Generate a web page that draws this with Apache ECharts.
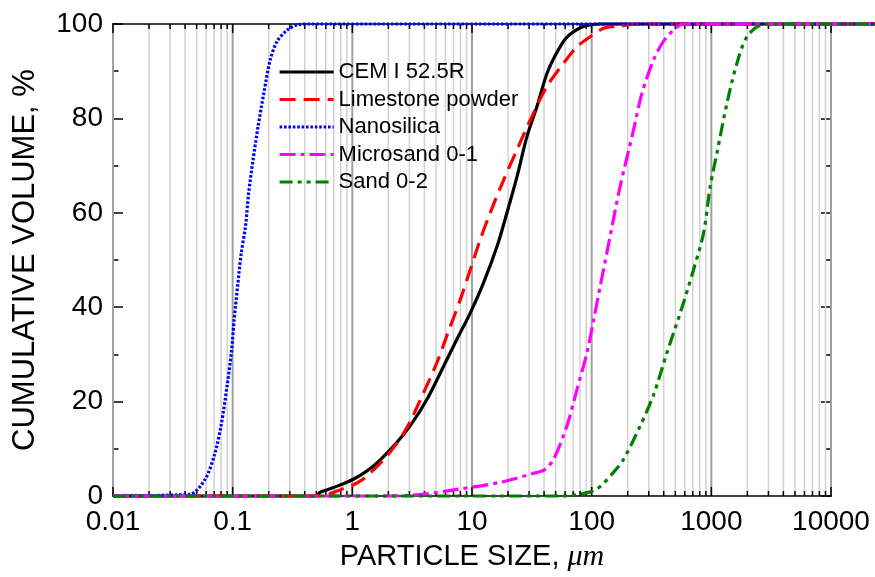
<!DOCTYPE html>
<html>
<head>
<meta charset="utf-8">
<script src="https://cdn.jsdelivr.net/npm/echarts@6/dist/echarts.min.js"></script>
<style>
html,body{margin:0;padding:0;background:#fff;}
#chart{width:875px;height:577px;}
</style>
</head>
<body>
<div id="chart"></div>
<script>
// ---- data ----
const seriesNames = ['CEM I 52.5R', 'Limestone powder', 'Nanosilica', 'Microsand 0-1', 'Sand 0-2'];

const cemX = [0.01, 0.49, 0.54, 0.70, 1.03, 1.51, 2.29, 3.05, 4.21, 5.79, 7.48, 9.68, 12.5, 16.2, 19.6, 23.8, 28.8, 34.9, 42.3, 51.3, 62.2, 80.3, 97, 120, 25000];
const cemY = [0, 0, 0.8, 1.8, 3.6, 6.4, 11, 14.9, 20.5, 27.5, 33.2, 38.8, 45.2, 52.9, 60, 67.7, 76.2, 82.5, 89.5, 94, 97.2, 99.2, 99.8, 100, 100];

const limeX = [0.01, 0.55, 0.70, 1.17, 1.95, 2.86, 3.94, 5.10, 6.38, 7.98, 9.68, 11.7, 14.2, 18.4, 23.8, 30.7, 42.3, 58.3, 75.4, 97.3, 126, 173, 250, 25000];
const limeY = [0, 0, 0.8, 3.2, 8.5, 14.5, 21.9, 28.3, 35, 41.6, 48, 54.3, 60, 67, 73.4, 79.7, 86.8, 91.7, 95.2, 97.3, 99.1, 99.6, 100, 100];

const nanoX = [0.01, 0.044, 0.059, 0.0708, 0.080, 0.0898, 0.0975, 0.103, 0.110, 0.118, 0.128, 0.136, 0.148, 0.163, 0.182, 0.206, 0.235, 0.285, 0.345, 0.45, 25000];
const nanoY = [0, 0.4, 3.6, 8.9, 14.9, 23.3, 30.4, 37.4, 44.5, 51.5, 57.1, 64.2, 71.2, 78.3, 85.3, 92.4, 96.3, 98.7, 99.8, 100, 100];

const microX = [0.01, 2, 3.7, 8, 17.2, 34.9, 40, 48.1, 62.2, 75.4, 91.4, 104, 118, 134, 152, 173, 224, 263, 329, 398, 500, 600, 25000];
const microY = [0, 0, 0.3, 1.5, 2.9, 5.0, 5.5, 7.8, 14.9, 22.6, 30.4, 37.4, 44.5, 51.5, 58.6, 65.6, 77.6, 85.3, 92.4, 96.3, 99.1, 100, 100];

const sandX = [0.01, 60, 80, 111, 152, 185, 255, 330, 426, 550, 711, 861, 979, 1114, 1350, 1637, 1983, 2565, 3000, 25000];
const sandY = [0, 0, 0.4, 1.5, 5, 7.8, 14.9, 21.5, 30.4, 38.8, 48, 55.7, 65.6, 72.7, 83.2, 91.7, 97.3, 99.8, 100, 100];

const xTickValues = [0.01, 0.1, 1, 10, 100, 1000, 10000];
const xTickLabels = ['0.01', '0.1', '1', '10', '100', '1000', '10000'];
const minorMultipliers = [2, 3, 4, 5, 6, 7, 8, 9];

// ---- layout (pixels) ----
const W = 875, PLOT_LEFT = 113, PLOT_RIGHT = 831, PLOT_TOP = 24, PLOT_BOTTOM = 497;
// the drawing area runs to the right edge of the page; the frame ends at the last tick value
const logMin = Math.log10(xTickValues[0]);
const logLast = Math.log10(xTickValues[xTickValues.length - 1]);
const xAxisMax = Math.pow(10, logMin + (logLast - logMin) * (W - PLOT_LEFT) / (PLOT_RIGHT - PLOT_LEFT));

// ---- build ----
const minorX = [];
for (let d = 0; d < xTickValues.length - 1; d++) {
  minorMultipliers.forEach(m => minorX.push(+(xTickValues[d] * m).toPrecision(6)));
}
function pairs(xs, ys) { return xs.map((x, i) => [x, ys[i]]); }

const FONT = '"Liberation Sans", Arial, Helvetica, sans-serif';
const colors = ['#000000', '#ff0000', '#0000ff', '#ff00ff', '#008000'];
const dashes = ['solid', [16, 8], [2.6, 1.8], [16, 5, 4, 5], [13, 5, 4, 5, 4, 5]];
const allData = [pairs(cemX, cemY), pairs(limeX, limeY), pairs(nanoX, nanoY), pairs(microX, microY), pairs(sandX, sandY)];

const lineSeries = seriesNames.map((name, i) => ({
  name: name,
  type: 'line',
  xAxisIndex: 0, yAxisIndex: 0,
  data: allData[i],
  symbol: 'none',
  showSymbol: false,
  smooth: 0.3,
  clip: false,
  z: 4,
  lineStyle: { color: colors[i], width: 3.2, type: dashes[i], cap: 'butt' },
  itemStyle: { color: colors[i] }
}));

function gridLineSeries(values, color, width, tickLen, z) {
  return {
    type: 'custom',
    xAxisIndex: 0, yAxisIndex: 0,
    silent: true,
    z: z,
    encode: { x: 0 },
    data: values.map(v => [v]),
    renderItem: function (params, api) {
      const v = api.value(0);
      const bot = api.coord([v, 0]);
      const top = api.coord([v, 100]);
      return {
        type: 'group',
        children: [
          { type: 'line', shape: { x1: bot[0], y1: bot[1], x2: top[0], y2: top[1] }, style: { stroke: color, lineWidth: width } },
          { type: 'line', z2: 5, shape: { x1: bot[0], y1: bot[1], x2: bot[0], y2: bot[1] - tickLen }, style: { stroke: '#000', lineWidth: 1.5 } },
          { type: 'line', z2: 5, shape: { x1: top[0], y1: top[1], x2: top[0], y2: top[1] + tickLen }, style: { stroke: '#000', lineWidth: 1.5 } }
        ]
      };
    }
  };
}

const frameSeries = {
  type: 'custom',
  xAxisIndex: 0, yAxisIndex: 0,
  silent: true,
  z: 3,
  encode: { x: 0 },
  data: [[xTickValues[0]]],
  renderItem: function (params, api) {
    const a0 = api.coord([xTickValues[0], 0]);
    const a1 = api.coord([xTickValues[xTickValues.length - 1], 0]);
    const b0 = api.coord([xTickValues[0], 100]);
    const b1 = api.coord([xTickValues[xTickValues.length - 1], 100]);
    return {
      type: 'group',
      children: [
        { type: 'line', shape: { x1: a0[0] - 0.75, y1: a0[1], x2: a1[0] + 0.75, y2: a1[1] }, style: { stroke: '#000', lineWidth: 1.5 } },
        { type: 'line', shape: { x1: b0[0] - 0.75, y1: b0[1], x2: b1[0] + 0.75, y2: b1[1] }, style: { stroke: '#000', lineWidth: 1.5 } }
      ]
    };
  }
};

const chart = echarts.init(document.getElementById('chart'), null, { renderer: 'canvas' });
const axisLineStyle = { color: '#000', width: 1.5 };
chart.setOption({
  backgroundColor: '#ffffff',
  animation: false,
  textStyle: { fontFamily: FONT },
  grid: { left: PLOT_LEFT, right: 0, top: PLOT_TOP, bottom: 577 - PLOT_BOTTOM, containLabel: false },
  legend: {
    orient: 'vertical',
    left: 273, top: 56,
    itemWidth: 54, itemHeight: 14, itemGap: 5.5,
    data: seriesNames,
    itemStyle: { opacity: 0 },
    lineStyle: { width: 3.2 },
    textStyle: { fontSize: 22, fontFamily: FONT, color: '#000', lineHeight: 22 },
    selectedMode: false
  },
  xAxis: [{
    type: 'log', logBase: 10, min: xTickValues[0], max: xAxisMax,
    position: 'bottom',
    name: 'PARTICLE SIZE, {i|μm}',
    nameLocation: 'middle', nameGap: 46,
    nameTextStyle: {
      fontSize: 29, fontFamily: FONT, color: '#000',
      padding: [0, W - PLOT_RIGHT, 0, 0],
      rich: { i: { fontSize: 30, fontFamily: '"Liberation Serif", "DejaVu Serif", serif', fontStyle: 'italic', color: '#000' } }
    },
    axisLine: { show: false, onZero: false },
    axisTick: { show: false },
    axisLabel: {
      show: true, margin: 12, fontSize: 28, fontFamily: FONT, color: '#000',
      showMaxLabel: false,
      formatter: function (v) {
        const l = Math.log10(v), k = Math.round(l);
        if (Math.abs(l - k) > 1e-6) return '';
        const lab = xTickLabels[k + 2];
        return lab !== undefined ? lab : '';
      }
    },
    splitLine: { show: false },
    minorTick: { show: false }
  }],
  yAxis: [{
    type: 'value', min: 0, max: 100, interval: 20,
    position: 'left',
    name: 'CUMULATIVE VOLUME, %',
    nameLocation: 'middle', nameGap: 72, nameRotate: 90,
    nameTextStyle: { fontSize: 31, fontFamily: FONT, color: '#000' },
    axisLine: { show: true, onZero: false, lineStyle: axisLineStyle },
    axisTick: { show: true, inside: true, length: 10, lineStyle: axisLineStyle },
    minorTick: { show: true, splitNumber: 2, length: 5.5, lineStyle: axisLineStyle },
    axisLabel: { show: true, margin: 10, fontSize: 28, fontFamily: FONT, color: '#000' },
    splitLine: { show: false }
  }, {
    type: 'value', min: 0, max: 100, interval: 20,
    position: 'right',
    offset: -(W - PLOT_RIGHT),
    axisLine: { show: true, onZero: false, lineStyle: axisLineStyle },
    axisTick: { show: true, inside: true, length: 10, lineStyle: axisLineStyle },
    minorTick: { show: true, splitNumber: 2, length: 5.5, lineStyle: axisLineStyle },
    axisLabel: { show: false },
    splitLine: { show: false }
  }],
  series: [
    gridLineSeries(minorX, '#d2d2d2', 1.5, 5, 1),
    gridLineSeries(xTickValues, '#a0a0a0', 2, 9, 2),
    frameSeries
  ].concat(lineSeries)
});
</script>
</body>
</html>
